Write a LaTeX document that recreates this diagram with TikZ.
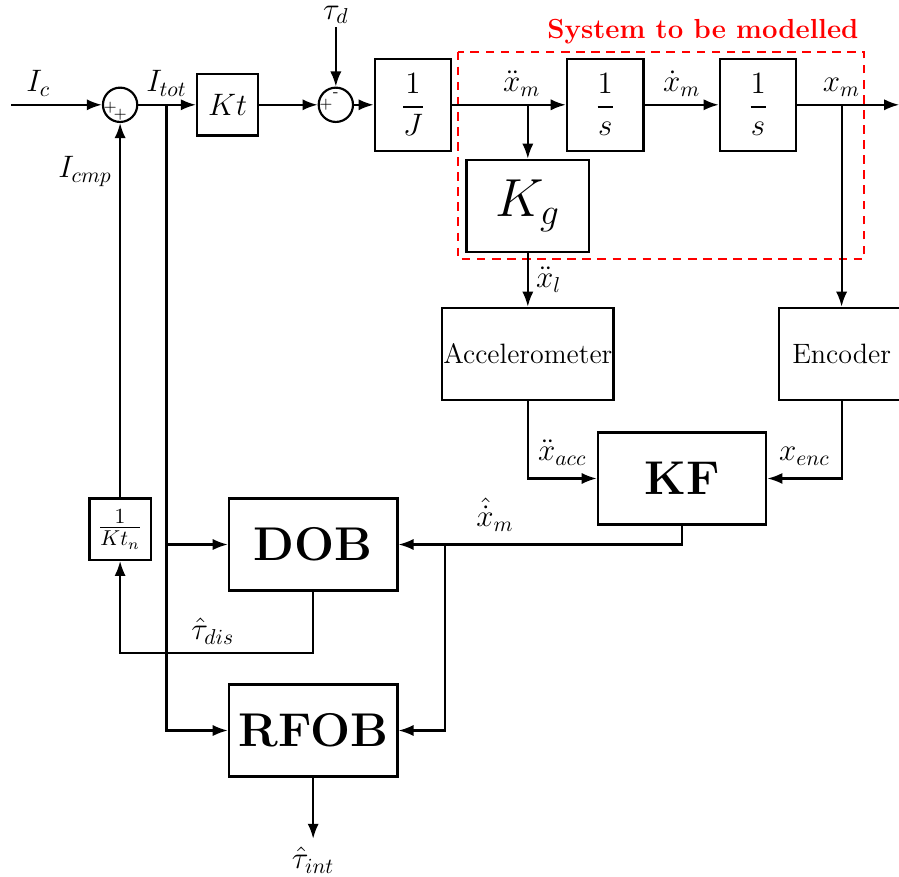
\documentclass[tikz,border=0pt]{standalone}
\usepackage{amsmath}
\usetikzlibrary{positioning,calc,arrows.meta}

\newcommand{\sigfont}{\fontsize{14.5}{17}\selectfont}

\begin{document}
\begin{tikzpicture}[line width=1pt,>={Latex[length=7pt,width=5.2pt]},
                    sumnode/.style={draw,circle,minimum size=5.6mm,inner sep=0pt},
                    sign/.style={font=\scriptsize,inner sep=0pt},
                    gain/.style={draw,minimum width=12.5mm,minimum height=15mm,font=\Large},
                    bigbox/.style={draw,minimum width=27.5mm,minimum height=15mm,
                                   font=\fontsize{22}{26}\selectfont\bfseries},
                    sensor/.style={draw,minimum height=15mm,inner xsep=0.5pt,
                                   font=\fontsize{13}{15}\selectfont},
                    model/.style={draw=red,dash pattern=on 4pt off 3pt}]
  \useasboundingbox (-1.96,1.71) rectangle (12.71,-12.6);
  % forward path
  \node[sumnode] (sum1) {};
  \coordinate[left=14.8mm of sum1] (in);
  \coordinate[right=4.6mm of sum1] (itbr);
  \node[draw,minimum size=10mm,font=\sigfont,right=9.4mm of sum1] (Kt) {$Kt$};
  \node[sumnode,right=9.5mm of Kt] (sum2) {};
  \node[above=9.7mm of sum2,inner sep=1pt,font=\sigfont] (taud) {$\tau_d$};
  \node[gain,right=3.2mm of sum2] (J) {$\dfrac{1}{J}$};
  \coordinate[right=12.3mm of J] (accbr);
  \node[gain,right=18.5mm of J] (int1) {$\dfrac{1}{s}$};
  \node[gain,right=12.1mm of int1] (int2) {$\dfrac{1}{s}$};
  \coordinate[right=7.2mm of int2] (xmbr);
  \coordinate[right=16.6mm of int2] (out);
  \node[draw,minimum width=20mm,minimum height=15mm,font=\fontsize{24.7}{28}\selectfont,
        below=8.8mm of accbr] (Kg) {$K_g$};
  % sensors and estimation
  \node[sensor,minimum width=27.5mm,below=8.8mm of Kg] (acc) {Accelerometer};
  \node[sensor,minimum width=20.5mm,anchor=north] (enc) at (xmbr |- acc.north) {Encoder};
  \node[bigbox,below right=5mm and -2.9mm of acc] (KF) {KF};
  \node[draw,minimum size=10mm,font=\Large,below=61.1mm of sum1] (Ktn) {$\frac{1}{Kt_n}$};
  \node[bigbox,right=12.4mm of Ktn.north east,anchor=north west] (DOB) {DOB};
  \node[bigbox,below=15mm of DOB] (RFOB) {RFOB};
  \node[below=10mm of RFOB,font=\sigfont] (tint) {$\hat{\tau}_{int}$};
  \coordinate[right=7.6mm of DOB] (velbr);

  \node[sign] at ([xshift=-1.6mm,yshift=-0.5mm]sum1.center) {$+$};
  \node[sign] at ([yshift=-1.6mm]sum1.center) {$+$};
  \node[sign] at ([xshift=-1.6mm]sum2.center) {$+$};
  \node[sign] at ([yshift=1.6mm]sum2.center) {-};

  \draw[model] ($(J.east |- int1.north)+(0.9mm,1mm)$) coordinate (boxNW)
    rectangle ($(xmbr |- Kg.south)+(3.7mm,-1mm)$) coordinate (boxSE);
  \node[anchor=south east,text=red,font=\fontsize{12.8}{15}\selectfont\bfseries]
    at ($(boxSE |- boxNW)+(0.4mm,-0.1mm)$) {System to be modelled};

  \begin{scope}[every node/.append style={font=\sigfont}]
  \draw[->] (in) -- node[above,pos=0.3] {$I_c$} (sum1);
  \draw[->] (sum1) -- (itbr) node[above] {$I_{tot}$} -- (Kt);
  \draw[->] (Kt) -- (sum2);
  \draw[->] (taud) -- (sum2);
  \draw[->] (sum2) -- (J);
  \draw[->] (J) -- (accbr) node[above,xshift=-1mm] {$\ddot{x}_m$} -- (int1);
  \draw[->] (int1) -- node[above] {$\dot{x}_m$} (int2);
  \draw[->] (int2) -- (xmbr) node[above] {$x_m$} -- (out);
  \draw[->] (accbr) -- (Kg);
  \draw[->] (Kg) -- node[right] {$\ddot{x}_l$} (acc);
  \draw[->] (xmbr) -- (enc);
  \draw[->] (acc) |- node[above,pos=0.75,yshift=0.8mm] {$\ddot{x}_{acc}$} (KF);
  \draw[->] (enc) |- node[above,pos=0.75,yshift=0.8mm] {$x_{enc}$} (KF);
  \draw[->] (KF) |- node[above,pos=0.83,yshift=0.8mm] {$\hat{\dot{x}}_m$} (DOB);
  \draw[->] (velbr) |- (RFOB);
  \draw[->] (itbr) |- (RFOB);
  \draw[->] (itbr |- DOB) -- (DOB);
  \draw[->] (DOB.south) -- ++(0,-1) -| node[above,pos=0.26] {$\hat{\tau}_{dis}$} (Ktn);
  \draw[->] (Ktn) -- node[left,pos=0.87] {$I_{cmp}$} (sum1);
  \draw[->] (RFOB) -- (tint);
  \end{scope}
\end{tikzpicture}
\end{document}
